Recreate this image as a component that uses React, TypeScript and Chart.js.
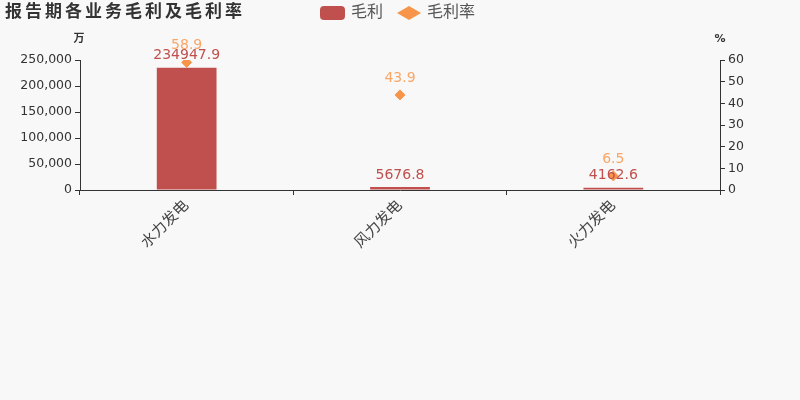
import React, { useEffect, useRef } from "react";
import { Chart, ChartConfiguration, registerables } from "chart.js";

Chart.register(...registerables);

const title = "报告期各业务毛利及毛利率";
const categories = ["水力发电", "风力发电", "火力发电"];
const grossProfit = [234947.9, 5676.8, 4162.6];
const grossMargin = [58.9, 43.9, 6.5];
const leftTicks = [0, 50000, 100000, 150000, 200000, 250000];
const rightTicks = [0, 10, 20, 30, 40, 50, 60];

const BAR = "#c0504d";
const DOT = "#f7964a";
const DOT_TEXT = "#f9a667";
const FONT = "'DejaVu Sans', 'Noto Sans CJK SC', sans-serif";

const overlay = {
  id: "overlay",
  afterDatasetsDraw(chart: Chart) {
    const ctx = chart.ctx as any;
    const area = chart.chartArea;
    ctx.save();
    // title
    ctx.fillStyle = "#333";
    ctx.font = `bold 17px ${FONT}`;
    ctx.letterSpacing = "3px";
    ctx.textAlign = "left";
    ctx.textBaseline = "middle";
    ctx.fillText(title, 5, 13);
    ctx.letterSpacing = "0px";

    // legend
    ctx.fillStyle = BAR;
    ctx.beginPath();
    ctx.roundRect(320, 6, 25, 14, 4);
    ctx.fill();
    ctx.fillStyle = "#555";
    ctx.font = `16px ${FONT}`;
    ctx.fillText(chart.data.datasets[0].label as string, 351, 13);
    ctx.fillStyle = DOT;
    ctx.beginPath();
    ctx.moveTo(397, 13);
    ctx.lineTo(409, 6);
    ctx.lineTo(421, 13);
    ctx.lineTo(409, 20);
    ctx.closePath();
    ctx.fill();
    ctx.fillStyle = "#555";
    ctx.fillText(chart.data.datasets[1].label as string, 427, 13);

    // axis units
    ctx.fillStyle = "#333";
    ctx.font = `bold 11px ${FONT}`;
    ctx.textAlign = "center";
    ctx.fillText("万", area.left - 1, 39);
    ctx.fillText("%", area.right, 39);

    // data labels
    ctx.font = `14px ${FONT}`;
    ctx.textBaseline = "middle";
    const barMeta = chart.getDatasetMeta(0);
    barMeta.data.forEach((el: any, i: number) => {
      ctx.fillStyle = BAR;
      ctx.fillText(String(grossProfit[i]), el.x, el.y - 12);
    });
    const lineMeta = chart.getDatasetMeta(1);
    lineMeta.data.forEach((el: any, i: number) => {
      ctx.fillStyle = DOT_TEXT;
      ctx.fillText(String(grossMargin[i]), el.x, el.y - 17);
    });
    ctx.restore();
  },
};

const App: React.FC = () => {
  const chartRef = useRef<HTMLCanvasElement | null>(null);

  useEffect(() => {
    if (!chartRef.current) return;
    const config: ChartConfiguration = {
      type: "bar",
      data: {
        labels: categories,
        datasets: [
          {
            type: "bar",
            label: "毛利",
            data: grossProfit,
            backgroundColor: BAR,
            yAxisID: "y",
            barPercentage: 0.28,
            categoryPercentage: 1,
            order: 2,
          },
          {
            type: "line",
            label: "毛利率",
            data: grossMargin,
            showLine: false,
            pointStyle: "rectRot",
            pointRadius: 5,
            pointHoverRadius: 5,
            pointBackgroundColor: DOT,
            pointBorderColor: DOT,
            borderColor: DOT,
            backgroundColor: DOT,
            yAxisID: "y1",
            order: 1,
          },
        ],
      },
      options: {
        animation: false,
        responsive: false,
        maintainAspectRatio: false,
        layout: { padding: { top: 60, left: 0, right: 0, bottom: 0 } },
        plugins: {
          legend: { display: false },
          title: { display: false },
          tooltip: { enabled: false },
        },
        scales: {
          x: {
            offset: true,
            grid: {
              offset: true,
              drawOnChartArea: false,
              drawTicks: true,
              tickLength: 5,
              color: "#333",
            },
            border: { color: "#333", width: 1 },
            ticks: {
              maxRotation: 45,
              minRotation: 45,
              color: "#444",
              font: { family: FONT, size: 15 },
              padding: 2,
            },
            afterFit: (scale: any) => {
              scale.height = 210;
            },
          },
          y: {
            position: "left",
            min: 0,
            max: 250000,
            afterBuildTicks: (scale: any) => {
              scale.ticks = leftTicks.map((v) => ({ value: v }));
            },
            grid: {
              drawOnChartArea: false,
              drawTicks: true,
              tickLength: 5,
              color: "#333",
            },
            border: { color: "#333", width: 1 },
            ticks: {
              color: "#333",
              font: { family: FONT, size: 12.5 },
              padding: 3,
              callback: (v: any) => Number(v).toLocaleString("en-US"),
            },
            afterFit: (scale: any) => {
              scale.width = 80;
            },
          },
          y1: {
            position: "right",
            min: 0,
            max: 60,
            afterBuildTicks: (scale: any) => {
              scale.ticks = rightTicks.map((v) => ({ value: v }));
            },
            grid: {
              drawOnChartArea: false,
              drawTicks: true,
              tickLength: 5,
              color: "#333",
            },
            border: { color: "#333", width: 1 },
            ticks: {
              color: "#333",
              font: { family: FONT, size: 12.5 },
              padding: 3,
            },
            afterFit: (scale: any) => {
              scale.width = 80;
            },
          },
        },
      },
      plugins: [overlay],
    };
    const chart = new Chart(chartRef.current, config);
    return () => {
      chart.destroy();
    };
  }, []);

  return (
    <div
      style={{
        position: "fixed",
        left: 0,
        top: 0,
        width: 800,
        height: 400,
        background: "#f8f8f8",
      }}
    >
      <canvas ref={chartRef} width={800} height={400}></canvas>
    </div>
  );
};

export default App;
